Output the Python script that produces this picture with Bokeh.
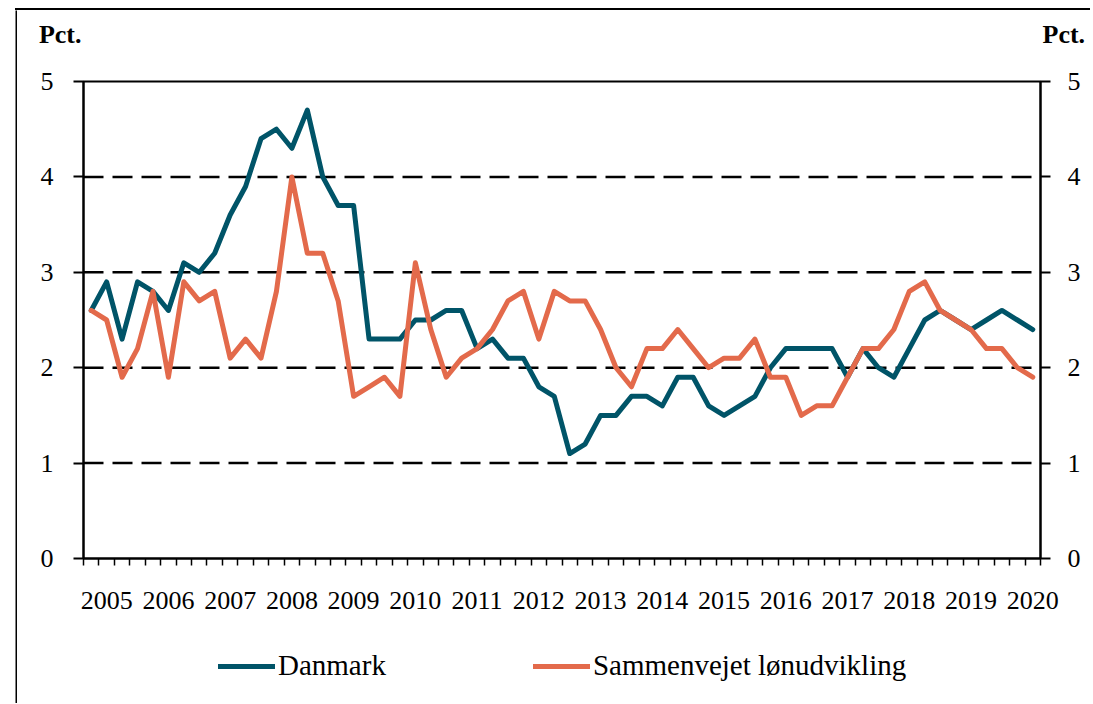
from bokeh.plotting import figure
from bokeh.models import (Range1d, LinearAxis, FixedTicker, Legend, LegendItem, Spacer)
from bokeh.layouts import column, row
from bokeh.embed import file_html
from bokeh.resources import INLINE

# ---- data (quarterly, 2004Q4 .. 2020Q1) ----
danmark = [2.6, 2.9, 2.3, 2.9, 2.8, 2.6, 3.1, 3.0, 3.2, 3.6,
           3.9, 4.4, 4.5, 4.3, 4.7, 4.0, 3.7, 3.7, 2.3, 2.3,
           2.3, 2.5, 2.5, 2.6, 2.6, 2.2, 2.3, 2.1, 2.1, 1.8,
           1.7, 1.1, 1.2, 1.5, 1.5, 1.7, 1.7, 1.6, 1.9, 1.9,
           1.6, 1.5, 1.6, 1.7, 2.0, 2.2, 2.2, 2.2, 2.2, 1.9,
           2.2, 2.0, 1.9, 2.2, 2.5, 2.6, 2.5, 2.4, 2.5, 2.6,
           2.5, 2.4]
sammenvejet = [2.6, 2.5, 1.9, 2.2, 2.8, 1.9, 2.9, 2.7, 2.8, 2.1,
               2.3, 2.1, 2.8, 4.0, 3.2, 3.2, 2.7, 1.7, 1.8, 1.9,
               1.7, 3.1, 2.4, 1.9, 2.1, 2.2, 2.4, 2.7, 2.8, 2.3,
               2.8, 2.7, 2.7, 2.4, 2.0, 1.8, 2.2, 2.2, 2.4, 2.2,
               2.0, 2.1, 2.1, 2.3, 1.9, 1.9, 1.5, 1.6, 1.6, 1.9,
               2.2, 2.2, 2.4, 2.8, 2.9, 2.6, 2.5, 2.4, 2.2, 2.2,
               2.0, 1.9]
year_labels = [str(y) for y in range(2005, 2021)]
y_ticks = [0, 1, 2, 3, 4, 5]
series_names = ["Danmark", "Sammenvejet lønudvikling"]
unit_label = "Pct."

n = len(danmark)
xs = list(range(n))
label_pos = [1 + 4 * i for i in range(len(year_labels))]

FONT = "Liberation Serif"
TEAL = "#005468"
ORANGE = "#E36A4B"
LW = 5

W = 1073                      # width of the chart column (page x 17..1090)
BL, BR = 66, 50               # side borders -> plot frame at page x 83..1040


def base(height, **kw):
    f = figure(width=W, height=height, output_backend="svg", toolbar_location=None,
               x_axis_type=None, y_axis_type=None, min_border_left=BL,
               min_border_right=BR, background_fill_color="white",
               border_fill_color="white", **kw)
    return f


# ---- outer box edges (left and top) ----
left_strip = figure(width=2, height=693, output_backend="svg", toolbar_location=None,
                    min_border=0, x_axis_type=None, y_axis_type=None,
                    outline_line_color=None, background_fill_color="black",
                    border_fill_color="black")
left_strip.grid.visible = False
top_strip = Spacer(width=1075, height=2, styles={"background-color": "black"})

# ---- header with unit labels on both sides ----
header = base(48, x_range=Range1d(0, 1), y_range=Range1d(0, 1),
              min_border_top=0, min_border_bottom=0)
header.outline_line_color = None
header.grid.visible = False
for side in ("left", "right"):
    hax = LinearAxis(ticker=FixedTicker(ticks=[0.5], minor_ticks=[]))
    hax.major_label_overrides = {0.5: unit_label}
    hax.axis_line_color = None
    hax.major_tick_line_color = None
    hax.major_tick_out = 0
    hax.major_tick_in = 0
    hax.minor_tick_out = 0
    hax.major_label_standoff = 2
    hax.major_label_text_font = FONT
    hax.major_label_text_font_size = "26px"
    hax.major_label_text_font_style = "bold"
    hax.major_label_text_color = "black"
    header.add_layout(hax, side)

# ---- main chart ----
p = base(575, x_range=Range1d(-0.5, n - 0.5), y_range=Range1d(0, 5),
         min_border_top=23, min_border_bottom=75)
p.outline_line_color = "black"
p.outline_line_width = 2

xaxis = LinearAxis(ticker=FixedTicker(ticks=label_pos,
                                      minor_ticks=[i - 0.5 for i in range(n + 1)]))
xaxis.major_label_overrides = {pos: lab for pos, lab in zip(label_pos, year_labels)}
xaxis.major_tick_out = 0
xaxis.major_tick_in = 0
xaxis.minor_tick_out = 7
xaxis.minor_tick_in = 0
xaxis.minor_tick_line_color = "black"
xaxis.minor_tick_line_width = 1.5
xaxis.axis_line_width = 2
xaxis.axis_line_color = "black"
xaxis.major_label_text_font = FONT
xaxis.major_label_text_font_size = "26px"
xaxis.major_label_text_color = "black"
xaxis.major_label_standoff = 26
p.add_layout(xaxis, "below")

for side in ("left", "right"):
    ax = LinearAxis(ticker=FixedTicker(ticks=y_ticks))
    ax.major_tick_out = 10
    ax.major_tick_in = 0
    ax.minor_tick_out = 0
    ax.major_tick_line_width = 2
    ax.major_tick_line_color = "black"
    ax.axis_line_width = 2
    ax.axis_line_color = "black"
    ax.major_label_text_font = FONT
    ax.major_label_text_font_size = "26px"
    ax.major_label_text_color = "black"
    ax.major_label_standoff = 20 if side == "left" else 17
    p.add_layout(ax, side)

for v in y_ticks[1:-1]:
    p.line([-0.5, n - 0.5], [v, v], line_color="black", line_width=2.5,
           line_dash="20 9")

p.line(xs, danmark, line_color=TEAL, line_width=LW, line_join="round", line_cap="round")
p.line(xs, sammenvejet, line_color=ORANGE, line_width=LW, line_join="round",
       line_cap="round")

# ---- legend strip ----
lf = base(70, x_range=Range1d(0, 1), y_range=Range1d(0, 1),
          min_border_top=0, min_border_bottom=0)
lf.outline_line_color = None
lf.grid.visible = False
nan = float("nan")
g1 = lf.line([nan], [nan], line_color=TEAL, line_width=LW, line_cap="round")
g2 = lf.line([nan], [nan], line_color=ORANGE, line_width=LW, line_cap="round")
legend = Legend(items=[LegendItem(label=series_names[0], renderers=[g1]),
                       LegendItem(label=series_names[1], renderers=[g2])],
                orientation="horizontal", location=(135, 21),
                label_text_font=FONT, label_text_font_size="29px",
                label_text_color="black", glyph_width=57, glyph_height=30,
                label_standoff=3, spacing=147, padding=0, margin=0,
                border_line_color=None, background_fill_alpha=0)
lf.add_layout(legend, "center")

layout = column(
    Spacer(width=1090, height=8),
    row(Spacer(width=15, height=2), top_strip),
    row(Spacer(width=15, height=693), left_strip, column(header, p, lf)),
)

open("out.html", "w").write(file_html(layout, INLINE))
